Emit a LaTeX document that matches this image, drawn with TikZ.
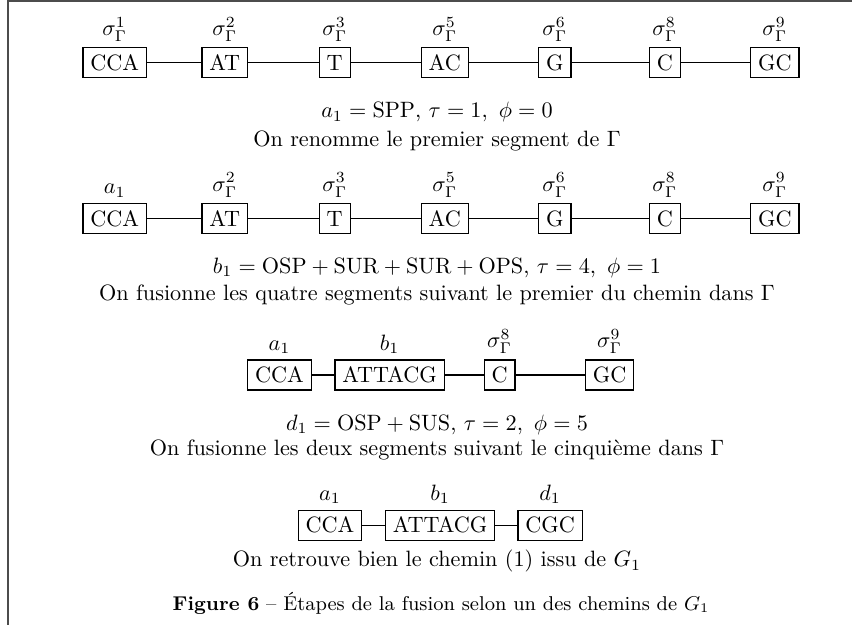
\documentclass[tikz,border=0pt]{standalone}
\usetikzlibrary{positioning}

\begin{document}
\begin{tikzpicture}[
    node distance=1.742cm,
    seg/.style={rectangle, draw, line width=0.55pt, on grid, text height=6.83pt, text depth=0pt},
    lab/.style={inner sep=2pt},
    txt/.style={anchor=base},
    link/.style={black, line width=0.55pt},
    frame/.style={line width=0.9pt, black!70}
]
    \useasboundingbox (0,0) rectangle (13.49,-9.896);
    \draw[frame] (13.49,-0.02) -| (0.13,-9.896);

    % Path of Gamma
    \node[seg] (cca1) at (1.816,-0.994) {CCA};
    \node[seg, right=of cca1] (at1) {AT};
    \node[seg, right=of at1] (t1) {T};
    \node[seg, right=of t1] (ac1) {AC};
    \node[seg, right=of ac1] (g1) {G};
    \node[seg, right=of g1] (c1) {C};
    \node[seg, right=of c1] (gc1) {GC};

    \node[lab, above=0.5pt of cca1] (lcca1) {$\sigma_\Gamma^1$};
    \node[lab, above=0.5pt of at1] (lat1) {$\sigma_\Gamma^2$};
    \node[lab, above=0.5pt of t1] (lt1) {$\sigma_\Gamma^3$};
    \node[lab, above=0.5pt of ac1] (lac1) {$\sigma_\Gamma^5$};
    \node[lab, above=0.5pt of g1] (lg1) {$\sigma_\Gamma^6$};
    \node[lab, above=0.5pt of c1] (lc1) {$\sigma_\Gamma^8$};
    \node[lab, above=0.5pt of gc1] (lgc1) {$\sigma_\Gamma^9$};

    \draw[link] (cca1) -- (at1);
    \draw[link] (at1) -- (t1);
    \draw[link] (t1) -- (ac1);
    \draw[link] (ac1) -- (g1);
    \draw[link] (g1) -- (c1);
    \draw[link] (c1) -- (gc1);

    \node[txt] (op1) at (6.919,-1.868) {$a_1 = \mathrm{SPP}$, $\tau = 1,\ \phi = 0$};
    \node[txt] (note1) at (6.919,-2.323) {On renomme le premier segment de $\Gamma$};

    % After renaming
    \node[seg] (cca2) at (1.816,-3.463) {CCA};
    \node[seg, right=of cca2] (at2) {AT};
    \node[seg, right=of at2] (t2) {T};
    \node[seg, right=of t2] (ac2) {AC};
    \node[seg, right=of ac2] (g2) {G};
    \node[seg, right=of g2] (c2) {C};
    \node[seg, right=of c2] (gc2) {GC};

    \node[lab, above=0.5pt of cca2] (lcca2) {$a_1$};
    \node[lab, above=0.5pt of at2] (lat2) {$\sigma_\Gamma^2$};
    \node[lab, above=0.5pt of t2] (lt2) {$\sigma_\Gamma^3$};
    \node[lab, above=0.5pt of ac2] (lac2) {$\sigma_\Gamma^5$};
    \node[lab, above=0.5pt of g2] (lg2) {$\sigma_\Gamma^6$};
    \node[lab, above=0.5pt of c2] (lc2) {$\sigma_\Gamma^8$};
    \node[lab, above=0.5pt of gc2] (lgc2) {$\sigma_\Gamma^9$};

    \draw[link] (cca2) -- (at2);
    \draw[link] (at2) -- (t2);
    \draw[link] (t2) -- (ac2);
    \draw[link] (ac2) -- (g2);
    \draw[link] (g2) -- (c2);
    \draw[link] (c2) -- (gc2);

    \node[txt] (op2) at (6.919,-4.323) {$b_1 = \mathrm{OSP} + \mathrm{SUR} + \mathrm{SUR} + \mathrm{OPS}$, $\tau = 4,\ \phi = 1$};
    \node[txt] (note2) at (6.919,-4.750) {On fusionne les quatre segments suivant le premier du chemin dans $\Gamma$};

    % First fusion
    \node[seg] (cca3) at (4.426,-5.938) {CCA};
    \node[seg, right=of cca3] (attacg3) {ATTACG};
    \node[seg, right=of attacg3] (c3) {C};
    \node[seg, right=of c3] (gc3) {GC};

    \node[lab, above=0.5pt of cca3] (lcca3) {$a_1$};
    \node[lab, above=0.5pt of attacg3] (lattacg3) {$b_1$};
    \node[lab, above=0.5pt of c3] (lc3) {$\sigma_\Gamma^8$};
    \node[lab, above=0.5pt of gc3] (lgc3) {$\sigma_\Gamma^9$};

    \draw[link] (cca3) -- (attacg3);
    \draw[link] (attacg3) -- (c3);
    \draw[link] (c3) -- (gc3);

    \node[txt] (op3) at (6.919,-6.809) {$d_1 = \mathrm{OSP} + \mathrm{SUS}$, $\tau = 2,\ \phi = 5$};
    \node[txt] (note3) at (6.919,-7.204) {On fusionne les deux segments suivant le cinquième dans $\Gamma$};

    % Second fusion
    \node[seg] (cca4) at (5.225,-8.318) {CCA};
    \node[seg, right=of cca4] (attacg4) {ATTACG};
    \node[seg, right=of attacg4] (cgc4) {CGC};

    \node[lab, above=0.5pt of cca4] (lcca4) {$a_1$};
    \node[lab, above=0.5pt of attacg4] (lattacg4) {$b_1$};
    \node[lab, above=0.5pt of cgc4] (lcgc4) {$d_1$};

    \draw[link] (cca4) -- (attacg4);
    \draw[link] (attacg4) -- (cgc4);

    \node[txt] (note4) at (6.919,-8.973) {On retrouve bien le chemin (1) issu de $G_1$};

    \node[txt] (cap) at (6.983,-9.659) {\small\textbf{Figure 6} -- Étapes de la fusion selon un des chemins de $G_1$};
\end{tikzpicture}
\end{document}
